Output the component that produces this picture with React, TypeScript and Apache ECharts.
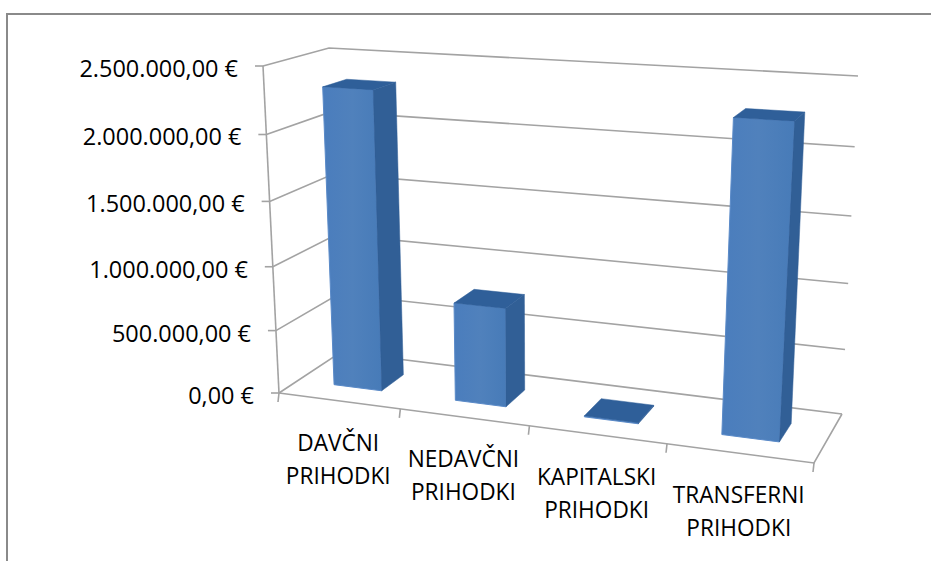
import React, { useEffect, useRef } from "react";
import * as echarts from "echarts";

const categories = ["DAVČNI\nPRIHODKI", "NEDAVČNI\nPRIHODKI", "KAPITALSKI\nPRIHODKI", "TRANSFERNI\nPRIHODKI"];
const values = [2320000, 765000, 8000, 2280000];
const yTicks = [0, 500000, 1000000, 1500000, 2000000, 2500000];
const yTickLabels = ["0,00 €", "500.000,00 €", "1.000.000,00 €", "1.500.000,00 €", "2.000.000,00 €", "2.500.000,00 €"];
const categoryEdges = [0, 1, 2, 3, 4];

const W = 931;
const H = 561;
const YMAX = 2500000;

type Pt = [number, number];
function quadMap(p0: Pt, p1: Pt, p2: Pt, p3: Pt) {
  const dx1 = p1[0] - p2[0], dx2 = p3[0] - p2[0], sx = p0[0] - p1[0] + p2[0] - p3[0];
  const dy1 = p1[1] - p2[1], dy2 = p3[1] - p2[1], sy = p0[1] - p1[1] + p2[1] - p3[1];
  const den = dx1 * dy2 - dx2 * dy1;
  const g = (sx * dy2 - dx2 * sy) / den;
  const h = (dx1 * sy - sx * dy1) / den;
  const a = p1[0] - p0[0] + g * p1[0], b = p3[0] - p0[0] + h * p3[0];
  const d = p1[1] - p0[1] + g * p1[1], e = p3[1] - p0[1] + h * p3[1];
  return (u: number, w: number): Pt => {
    const k = 1 + g * u + h * w;
    return [(a * u + b * w + p0[0]) / k, (d * u + e * w + p0[1]) / k];
  };
}
// scene frame: floor and ceiling of the 3D box, as quads (front-left, front-right, back-right, back-left)
const floor = quadMap([279, 393], [814, 463], [842, 414], [341, 352]);
const ceil = quadMap([263, 66], [835, 98], [858, 76], [329, 48]);
const warpU = (u: number) => (u * 0.9486) / (1 - 0.0514 * u);
const warpV = (v: number) => v / (1.06 - 0.06 * v);
function project(u: number, d: number, v: number): Pt {
  const uu = warpU(u);
  const a = floor(uu, d), b = ceil(uu, d), t = warpV(v);
  return [a[0] + (b[0] - a[0]) * t, a[1] + (b[1] - a[1]) * t];
}

const GRID = "#a3a3a3";
const lineStyle = { stroke: GRID, lineWidth: 1.6, fill: "none" };
const FONT = "'Open Sans', sans-serif";

export default function App() {
  const ref = useRef<HTMLDivElement>(null);
  useEffect(() => {
    const chart = echarts.init(ref.current!, undefined, { renderer: "svg" });
    const toUV = (api: any, params: any, c: number, val: number) => {
      const p = api.coord([c, val]);
      const cs = params.coordSys;
      return { u: (p[0] - cs.x) / cs.width, v: (cs.y + cs.height - p[1]) / cs.height };
    };
    chart.setOption({
      animation: false,
      backgroundColor: "#ffffff",
      grid: { left: 0, top: 0, width: W, height: H },
      xAxis: { type: "category", data: categories, show: false },
      yAxis: { type: "value", min: 0, max: YMAX, interval: 500000, show: false },
      graphic: [
        {
          type: "polyline",
          shape: { points: [[7, 561], [7, 14], [931, 14]] },
          style: { stroke: "#8a8a8a", lineWidth: 2, fill: "none" },
          silent: true,
        },
      ],
      series: [
        {
          // value-axis gridlines, ticks and labels
          type: "custom",
          coordinateSystem: "cartesian2d",
          clip: false,
          z: 1,
          data: yTicks.map((t, i) => [0, t, i]),
          encode: { x: 0, y: 1 },
          renderItem: (params: any, api: any) => {
            const val = api.value(1);
            const idx = api.value(2);
            const { v } = toUV(api, params, 0, val);
            const fl = project(0, 0, v), bl = project(0, 1, v), br = project(1, 1, v);
            const children: any[] = [
              { type: "polyline", shape: { points: [fl, bl, br] }, style: lineStyle },
              { type: "line", shape: { x1: fl[0] - 8, y1: fl[1], x2: fl[0], y2: fl[1] }, style: lineStyle },
              {
                type: "text",
                x: fl[0] - 25,
                y: fl[1] + 2,
                scaleX: 1.02,
                style: {
                  text: yTickLabels[idx],
                  x: 0,
                  y: 0,
                  align: "right",
                  verticalAlign: "middle",
                  font: `23px ${FONT}`,
                  fill: "#000000",
                },
              },
            ];
            if (idx === 0) {
              const top = project(0, 0, 1);
              const fr = project(1, 0, 0);
              children.push(
                { type: "line", shape: { x1: fl[0], y1: fl[1], x2: top[0], y2: top[1] }, style: lineStyle },
                { type: "polyline", shape: { points: [fl, fr, br] }, style: lineStyle }
              );
            }
            return { type: "group", children };
          },
        },
        {
          // category ticks and labels
          type: "custom",
          coordinateSystem: "cartesian2d",
          clip: false,
          z: 1,
          data: categoryEdges.map((c) => [c, 0]),
          encode: { x: 0, y: 1 },
          renderItem: (params: any, api: any) => {
            const c = api.value(0);
            const band = api.size([1, 0])[0] / params.coordSys.width;
            const edgeU = c * band;
            const p = project(edgeU, 0, 0);
            const children: any[] = [
              { type: "line", shape: { x1: p[0], y1: p[1], x2: p[0] - 1, y2: p[1] + 9 }, style: lineStyle },
            ];
            if (c < categories.length) {
              const m = project(edgeU + band / 2, 0, 0);
              children.push({
                type: "text",
                x: m[0] - 0.5,
                y: m[1] + 25,
                scaleX: 0.985,
                style: {
                  text: categories[c],
                  x: 0,
                  y: 0,
                  align: "center",
                  verticalAlign: "top",
                  font: `23px ${FONT}`,
                  lineHeight: 33,
                  fill: "#000000",
                },
              });
            }
            return { type: "group", children };
          },
        },
        {
          // bars
          type: "custom",
          coordinateSystem: "cartesian2d",
          clip: false,
          z: 2,
          data: values.map((v, i) => [i, v]),
          encode: { x: 0, y: 1 },
          renderItem: (params: any, api: any) => {
            const c = api.value(0);
            const val = api.value(1);
            const { u, v } = toUV(api, params, c, val);
            const band = api.size([1, 0])[0] / params.coordSys.width;
            const hw = band * 0.2;
            const u0 = u - hw + band * 0.005, u1 = u + hw + band * 0.005;
            const d0 = 0.3, d1 = 0.68;
            const a = project(u0, d0, 0), b = project(u1, d0, 0), e = project(u1, d1, 0);
            const at = project(u0, d0, v), bt = project(u1, d0, v), et = project(u1, d1, v), ft = project(u0, d1, v);
            const front = new echarts.graphic.LinearGradient(0, 0, 1, 0, [
              { offset: 0, color: "#4a7dbd" },
              { offset: 0.5, color: "#5081bc" },
              { offset: 1, color: "#477bb8" },
            ]);
            return {
              type: "group",
              children: [
                { type: "polygon", shape: { points: [a, b, bt, at] }, style: { fill: front, stroke: "#5a8ac8", lineWidth: 1 } },
                { type: "polygon", shape: { points: [b, e, et, bt] }, style: { fill: "#315f96", stroke: "#315f96", lineWidth: 0.5 } },
                { type: "polygon", shape: { points: [at, bt, et, ft] }, style: { fill: "#2f5f99", stroke: "#2f5f99", lineWidth: 0.5 } },
              ],
            };
          },
        },
      ],
    });
    return () => chart.dispose();
  }, []);
  return <div ref={ref} style={{ position: "fixed", left: 0, top: 0, width: W, height: H }} />;
}
